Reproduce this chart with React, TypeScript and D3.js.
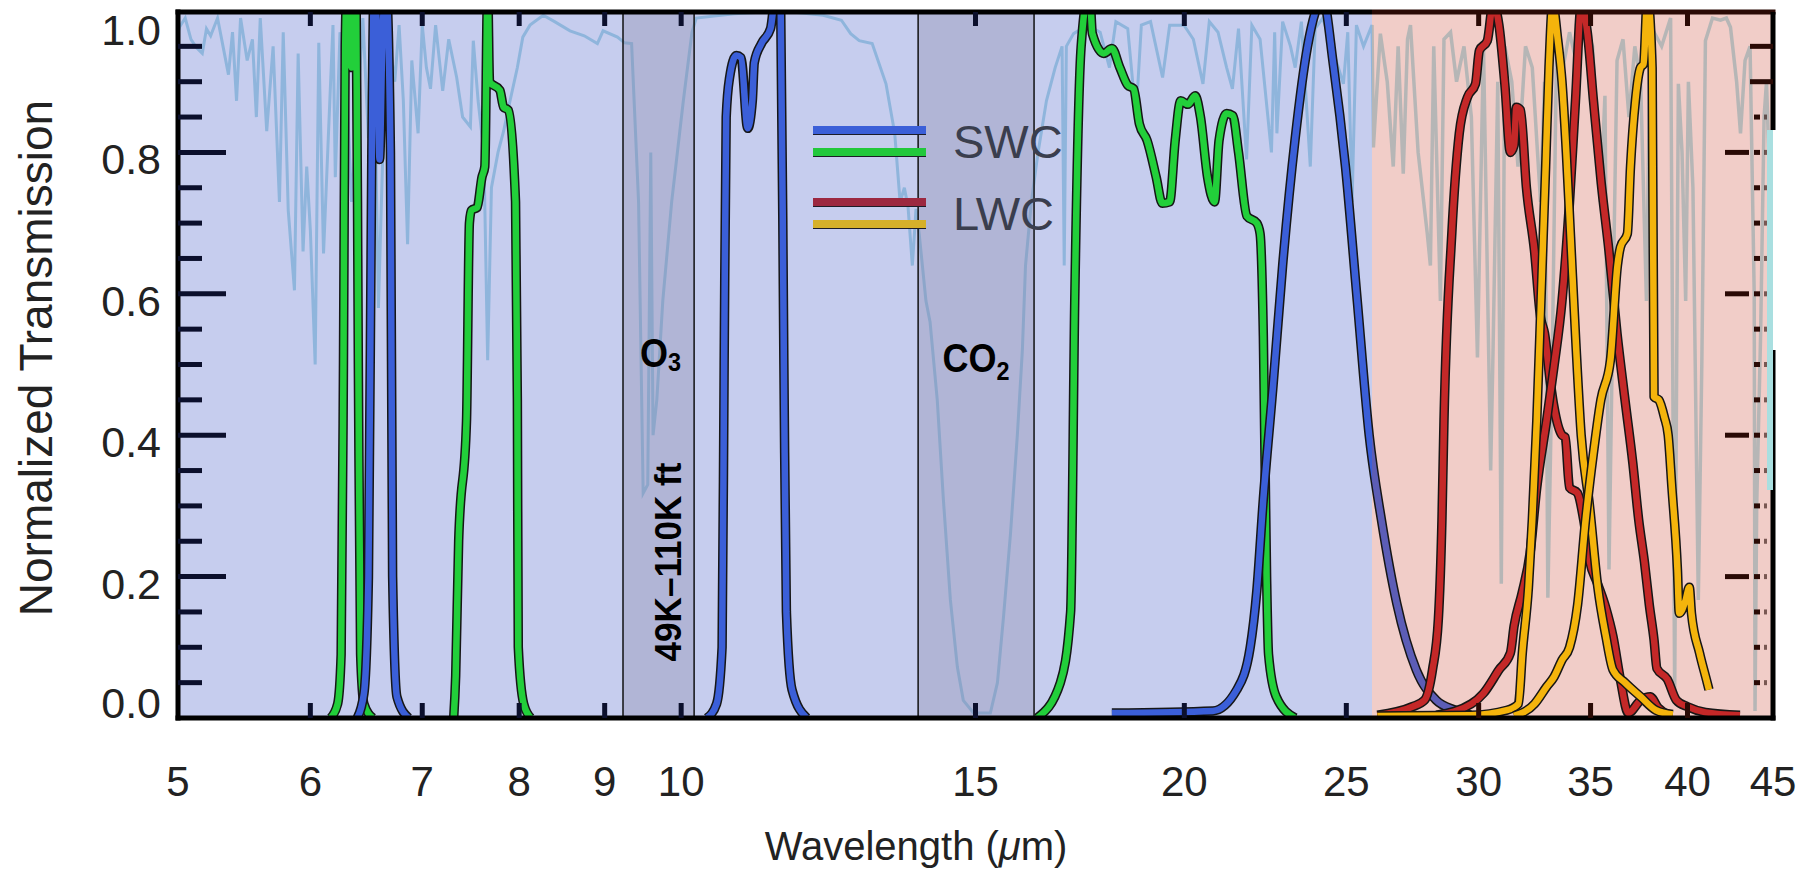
import { useRef, useEffect } from "react";
import * as d3 from "d3";

type Pt = [number, number];

// [wavelength µm, normalized transmission]
const atmosphere: Pt[] = [
  [5.0, 0.97], [5.01, 0.977], [5.05, 0.99], [5.09, 0.96], [5.13, 0.948], [5.17, 0.94], [5.2, 0.975],
  [5.23, 0.965], [5.28, 0.99], [5.32, 0.95], [5.36, 0.91], [5.39, 0.97], [5.42, 0.873], [5.45, 0.99],
  [5.5, 0.93], [5.54, 0.96], [5.57, 0.85], [5.6, 0.99], [5.65, 0.83], [5.7, 0.95], [5.75, 0.73],
  [5.78, 0.97], [5.82, 0.718], [5.87, 0.605], [5.9, 0.94], [5.94, 0.66], [5.97, 0.78], [6.0, 0.69],
  [6.04, 0.5], [6.07, 0.955], [6.11, 0.657], [6.15, 0.82], [6.19, 0.98], [6.21, 0.765], [6.25, 0.97],
  [6.3, 0.93], [6.35, 0.73], [6.4, 0.85], [6.45, 0.99], [6.5, 0.82], [6.55, 0.95], [6.59, 0.58],
  [6.63, 0.8], [6.68, 0.97], [6.74, 0.9], [6.78, 0.98], [6.82, 0.873], [6.86, 0.67], [6.9, 0.93],
  [6.96, 0.827], [7.0, 0.98], [7.04, 0.92], [7.08, 0.89], [7.13, 0.98], [7.2, 0.887], [7.26, 0.96],
  [7.34, 0.906], [7.4, 0.85], [7.48, 0.836], [7.51, 0.958], [7.56, 0.873], [7.62, 0.8], [7.66, 0.506],
  [7.7, 0.75], [7.77, 0.8], [7.83, 0.83], [7.9, 0.873], [7.98, 0.92], [8.04, 0.963], [8.12, 0.98],
  [8.27, 0.994], [8.4, 0.985], [8.58, 0.972], [8.75, 0.965], [8.91, 0.954], [8.98, 0.972], [9.16, 0.963],
  [9.25, 0.955], [9.34, 0.954], [9.43, 0.73], [9.49, 0.318], [9.55, 0.33], [9.59, 0.8], [9.62, 0.4],
  [9.67, 0.45], [9.75, 0.59], [9.87, 0.73], [10.03, 0.873], [10.15, 0.97], [10.21, 0.99], [10.76, 0.996],
  [11.5, 1.0], [12.16, 0.994], [12.47, 0.987], [12.63, 0.968], [12.78, 0.958], [13.01, 0.954],
  [13.26, 0.897], [13.42, 0.827], [13.52, 0.73], [13.6, 0.75], [13.67, 0.722], [13.75, 0.64],
  [13.82, 0.72], [13.88, 0.685], [14.01, 0.59], [14.09, 0.56], [14.23, 0.45], [14.35, 0.31],
  [14.49, 0.167], [14.63, 0.072], [14.75, 0.025], [14.96, 0.007], [15.31, 0.007], [15.46, 0.05],
  [15.59, 0.143], [15.74, 0.26], [15.89, 0.4], [16.0, 0.52], [16.07, 0.64], [16.2, 0.73], [16.35, 0.8],
  [16.54, 0.873], [16.74, 0.92], [16.9, 0.95], [16.95, 0.64], [17.0, 0.95], [17.17, 0.968], [17.5, 0.98],
  [17.81, 0.97], [18.04, 0.92], [18.2, 0.985], [18.5, 0.975], [18.71, 0.85], [18.85, 0.98], [19.09, 0.985],
  [19.41, 0.906], [19.6, 0.98], [19.99, 0.98], [20.25, 0.96], [20.52, 0.897], [20.7, 0.985], [20.95, 0.97],
  [21.2, 0.92], [21.37, 0.89], [21.55, 0.975], [21.79, 0.79], [21.95, 0.98], [22.2, 0.96], [22.55, 0.8],
  [22.65, 0.97], [22.72, 0.827], [22.9, 0.985], [23.15, 0.95], [23.3, 0.92], [23.5, 0.985], [23.79, 0.78],
  [23.95, 0.975], [24.2, 0.99], [24.5, 0.95], [24.9, 0.897], [25.05, 0.97], [25.2, 0.73], [25.35, 0.98],
  [25.6, 0.95], [25.9, 0.98], [25.95, 0.807], [26.2, 0.968], [26.45, 0.9], [26.67, 0.78], [26.85, 0.95],
  [27.04, 0.77], [27.2, 0.96], [27.31, 0.98], [27.6, 0.8], [27.95, 0.685], [28.07, 0.64], [28.2, 0.95],
  [28.46, 0.59], [28.6, 0.96], [28.86, 0.97], [29.1, 0.9], [29.4, 0.95], [29.7, 0.85], [29.95, 0.51],
  [30.2, 0.95], [30.5, 0.35], [30.6, 0.52], [30.8, 0.9], [30.95, 0.19], [31.1, 0.95], [31.4, 0.9],
  [31.67, 0.78], [32.0, 0.95], [32.3, 0.92], [32.67, 0.73], [32.85, 0.9], [33.0, 0.17], [33.2, 0.506],
  [33.4, 0.95], [33.58, 0.9], [34.0, 0.97], [34.3, 0.93], [34.75, 0.98], [35.1, 0.95], [35.48, 0.73],
  [35.7, 0.88], [35.9, 0.21], [36.1, 0.59], [36.3, 0.93], [36.6, 0.96], [36.9, 0.85], [37.2, 0.95],
  [37.5, 0.9], [37.8, 0.59], [38.0, 0.96], [38.2, 0.97], [38.6, 0.95], [39.08, 0.99], [39.3, 0.035],
  [39.5, 0.897], [39.7, 0.8], [39.9, 0.59], [40.05, 0.9], [40.3, 0.75], [40.6, 0.167], [40.8, 0.506],
  [41.0, 0.958], [41.4, 0.99], [41.86, 0.987], [42.2, 0.99], [42.44, 0.977], [42.8, 0.9], [43.03, 0.827],
  [43.3, 0.93], [43.6, 0.95], [43.85, 0.6], [43.9, 0.01], [44.0, 0.3], [44.24, 0.544], [44.45, 0.85],
  [44.6, 0.9], [44.8, 0.75], [45.0, 0.7],
];

// short-wave channel filters
const swcGreen1: Pt[] = [
  [6.17, 0], [6.23, 0.02], [6.26, 0.09], [6.28, 0.5], [6.295, 0.95], [6.31, 1.03], [6.35, 0.92],
  [6.39, 1.03], [6.41, 0.5], [6.43, 0.09], [6.46, 0.02], [6.54, 0],
];
const swcBlue1: Pt[] = [
  [6.4, 0], [6.46, 0.035], [6.5, 0.2], [6.53, 0.8], [6.55, 1.03], [6.575, 0.98], [6.6, 0.79],
  [6.63, 0.98], [6.66, 1.03], [6.7, 0.8], [6.72, 0.2], [6.76, 0.03], [6.87, 0],
];
const swcGreen2: Pt[] = [
  [7.31, 0], [7.33, 0.06], [7.36, 0.25], [7.44, 0.42], [7.47, 0.7], [7.49, 0.718], [7.55, 0.722],
  [7.6, 0.765], [7.63, 0.78], [7.66, 1.03], [7.68, 0.9], [7.79, 0.888], [7.83, 0.864], [7.88, 0.86],
  [7.96, 0.73], [7.98, 0.45], [7.99, 0.1], [8.05, 0.02], [8.13, 0],
];
const swcBlue2: Pt[] = [
  [10.36, 0], [10.5, 0.02], [10.58, 0.1], [10.61, 0.5], [10.64, 0.85], [10.69, 0.906], [10.79, 0.937],
  [10.86, 0.934], [10.96, 0.834], [11.03, 0.873], [11.06, 0.927], [11.17, 0.954], [11.31, 0.975],
  [11.4, 1.03], [11.47, 1.0], [11.52, 0.5], [11.56, 0.15], [11.65, 0.04], [11.89, 0],
];
const swcGreen3: Pt[] = [
  [16.33, 0], [16.86, 0.05], [17.1, 0.15], [17.2, 0.6], [17.35, 0.95], [17.55, 1.03], [17.62, 0.968],
  [17.9, 0.94], [18.1, 0.947], [18.3, 0.92], [18.5, 0.895], [18.65, 0.89], [18.8, 0.84], [19.0, 0.817],
  [19.24, 0.765], [19.4, 0.728], [19.6, 0.73], [19.75, 0.817], [19.9, 0.873], [20.1, 0.868], [20.3, 0.88],
  [20.45, 0.85], [20.65, 0.765], [20.85, 0.73], [20.98, 0.817], [21.2, 0.855], [21.38, 0.852],
  [21.55, 0.8], [21.8, 0.71], [22.1, 0.7], [22.2, 0.685], [22.3, 0.54], [22.4, 0.2], [22.46, 0.09],
  [22.7, 0.03], [23.3, 0],
];
const swcBlue3: Pt[] = [
  [18.1, 0.007], [20.8, 0.01], [21.5, 0.04], [21.9, 0.1], [22.1, 0.18], [22.3, 0.31], [22.6, 0.47],
  [22.9, 0.64], [23.3, 0.82], [23.7, 0.95], [24.05, 1.01], [24.19, 1.02], [24.57, 0.92], [24.97, 0.78],
  [25.38, 0.59], [25.8, 0.4], [26.24, 0.28], [26.8, 0.162], [27.53, 0.068], [28.3, 0.025], [29.05, 0.011],
  [29.67, 0.004],
];

// long-wave channel filters
const lwcRed1: Pt[] = [
  [26.09, 0.004], [27.38, 0.016], [27.84, 0.025], [28.15, 0.068], [28.38, 0.14], [28.52, 0.28],
  [28.6, 0.42], [28.91, 0.685], [29.21, 0.827], [29.54, 0.878], [29.87, 0.897], [30.03, 0.944],
  [30.36, 0.958], [30.6, 1.01], [30.85, 0.98], [31.1, 0.897], [31.34, 0.8], [31.5, 0.81], [31.6, 0.864],
  [31.78, 0.86], [32.04, 0.75], [32.4, 0.66], [32.67, 0.567], [32.85, 0.544], [33.12, 0.473],
  [33.28, 0.44], [33.65, 0.4], [33.8, 0.397], [34.0, 0.326], [34.38, 0.318], [34.67, 0.28], [34.95, 0.223],
  [35.34, 0.19], [35.73, 0.157], [36.1, 0.115], [36.47, 0.054], [36.87, 0.007], [37.5, 0.025],
  [38.0, 0.03], [38.4, 0.015], [39.0, 0.004],
];
const lwcRed2: Pt[] = [
  [28.3, 0.004], [29.7, 0.02], [30.2, 0.035], [30.85, 0.068], [31.34, 0.092], [31.5, 0.13], [31.85, 0.177],
  [32.2, 0.233], [32.5, 0.326], [32.94, 0.42], [33.28, 0.497], [33.65, 0.59], [34.0, 0.73], [34.28, 0.873],
  [34.56, 1.01], [34.85, 0.968], [35.14, 0.873], [35.52, 0.756], [35.9, 0.66], [36.3, 0.544], [36.7, 0.45],
  [37.1, 0.36], [37.4, 0.28], [37.7, 0.22], [37.95, 0.16], [38.2, 0.11], [38.35, 0.07], [38.9, 0.055],
  [39.4, 0.025], [40.0, 0.016], [41.0, 0.008], [43.0, 0.004],
];
const lwcYellow1: Pt[] = [
  [26.09, 0.003], [29.67, 0.004], [31.19, 0.011], [31.69, 0.02], [31.86, 0.092], [32.13, 0.185],
  [32.3, 0.28], [32.5, 0.42], [32.7, 0.6], [32.9, 0.78], [33.05, 0.92], [33.22, 1.01], [33.45, 0.96],
  [33.65, 0.9], [33.85, 0.8], [34.05, 0.68], [34.3, 0.53], [34.55, 0.4], [34.95, 0.3], [35.35, 0.185],
  [35.75, 0.115], [36.1, 0.068], [36.7, 0.05], [37.5, 0.03], [38.3, 0.011], [39.2, 0.005],
];
const lwcYellow2: Pt[] = [
  [31.5, 0.003], [32.4, 0.02], [32.94, 0.044], [33.28, 0.058], [33.65, 0.082], [34.0, 0.1], [34.38, 0.16],
  [34.76, 0.28], [35.14, 0.375], [35.5, 0.45], [35.97, 0.506], [36.32, 0.64], [36.47, 0.666],
  [36.82, 0.685], [36.98, 0.78], [37.23, 0.873], [37.49, 0.92], [37.65, 0.925], [37.85, 1.02],
  [38.1, 0.92], [38.2, 0.454], [38.45, 0.45], [38.75, 0.425], [38.95, 0.4], [39.15, 0.326], [39.45, 0.21],
  [39.55, 0.148], [39.9, 0.167], [40.1, 0.185], [40.22, 0.148], [40.67, 0.092], [41.1, 0.05], [41.2, 0.04],
];

const xTickLabels = [5, 6, 7, 8, 9, 10, 15, 20, 25, 30, 35, 40, 45];
const xInnerTicks = [6, 7, 8, 9, 10, 15, 20, 25, 30, 35, 40];
const yTickLabels = [0, 0.2, 0.4, 0.6, 0.8, 1.0];
const yMinorTicks = d3.range(0.05, 0.99, 0.05);

const bandO3: Pt = [9.23, 10.18];
const bandCO2: Pt = [13.86, 16.26];
const lwcStart = 25.9;

const legendItems = [
  { label: "SWC", colors: ["#3b5fd8", "#22c83c"] },
  { label: "LWC", colors: ["#9c2840", "#d6b02a"] },
];

const FONT = "'Liberation Sans', Arial, Helvetica, sans-serif";

export default function App() {
  const ref = useRef<SVGSVGElement>(null);

  useEffect(() => {
    const svg = d3.select(ref.current);
    svg.selectAll("*").remove();

    const left = 178, right = 1773, top = 12, bottom = 718;
    const x = d3.scaleLog().domain([5, 45]).range([left, right]);
    const y = d3.scaleLinear().domain([0, 1]).range([bottom, 11]);
    const split = x(lwcStart);

    const defs = svg.append("defs");
    const clip = (id: string, x0: number, x1: number) =>
      defs.append("clipPath").attr("id", id).append("rect")
        .attr("x", x0).attr("y", top).attr("width", x1 - x0).attr("height", bottom - top);
    clip("clip-all", left, right);
    clip("clip-swc", left, split);
    clip("clip-lwc", split, right);

    // backgrounds
    svg.append("rect").attr("x", left).attr("y", top).attr("width", split - left)
      .attr("height", bottom - top).attr("fill", "#c6cdee");
    svg.append("rect").attr("x", split).attr("y", top).attr("width", right - split)
      .attr("height", bottom - top).attr("fill", "#f1cdc8");

    const line = d3.line<Pt>().x((d) => x(d[0])).y((d) => y(d[1]));
    const smooth = d3.line<Pt>().x((d) => x(d[0])).y((d) => y(d[1])).curve(d3.curveMonotoneX);

    // atmospheric transmission
    svg.append("path").datum(atmosphere).attr("d", line).attr("fill", "none")
      .attr("stroke", "#8fb5dc").attr("stroke-width", 3).attr("clip-path", "url(#clip-swc)");
    svg.append("path").datum(atmosphere).attr("d", line).attr("fill", "none")
      .attr("stroke", "#b6b6b6").attr("stroke-width", 3.5).attr("clip-path", "url(#clip-lwc)");

    // absorption bands
    [bandO3, bandCO2].forEach(([a, b]) => {
      svg.append("rect").attr("x", x(a)).attr("y", top).attr("width", x(b) - x(a))
        .attr("height", bottom - top).attr("fill", "#8a8aa8").attr("opacity", 0.35);
      [a, b].forEach((v) => {
        svg.append("line").attr("x1", x(v)).attr("x2", x(v)).attr("y1", top).attr("y2", bottom)
          .attr("stroke", "#111").attr("stroke-width", 1.5);
      });
    });

    const drawFilter = (data: Pt[], color: string, clipId = "clip-all") => {
      const g = svg.append("g").attr("clip-path", `url(#${clipId})`);
      g.append("path").datum(data).attr("d", smooth).attr("fill", "none")
        .attr("stroke", "#161616").attr("stroke-width", 9.5).attr("stroke-linejoin", "round");
      g.append("path").datum(data).attr("d", smooth).attr("fill", "none")
        .attr("stroke", color).attr("stroke-width", 6.5).attr("stroke-linejoin", "round");
    };

    drawFilter(swcGreen1, "#22cf3a");
    drawFilter(swcBlue1, "#3b5fd8");
    drawFilter(swcGreen2, "#22cf3a");
    drawFilter(swcBlue2, "#3b5fd8");
    drawFilter(swcGreen3, "#22cf3a");
    drawFilter(swcBlue3, "#3b5fd8", "clip-swc");
    drawFilter(swcBlue3, "#5c5db6", "clip-lwc");
    drawFilter(lwcRed1, "#c42828");
    drawFilter(lwcRed2, "#c42828");
    drawFilter(lwcYellow1, "#f4b40c");
    drawFilter(lwcYellow2, "#f4b40c");

    // frame
    const navy = "#0b0f2c";
    const brown = "#2a0a05";
    svg.append("line").attr("x1", left).attr("x2", left).attr("y1", top - 2.5).attr("y2", bottom + 2.5)
      .attr("stroke", "#000").attr("stroke-width", 5);
    svg.append("line").attr("x1", left - 2.5).attr("x2", right + 2.5).attr("y1", bottom).attr("y2", bottom)
      .attr("stroke", "#000").attr("stroke-width", 5);
    svg.append("line").attr("x1", left - 2.5).attr("x2", split).attr("y1", top).attr("y2", top)
      .attr("stroke", "#000").attr("stroke-width", 5);
    svg.append("line").attr("x1", split).attr("x2", right + 2.5).attr("y1", top).attr("y2", top)
      .attr("stroke", brown).attr("stroke-width", 5);
    svg.append("line").attr("x1", right).attr("x2", right).attr("y1", top).attr("y2", 130)
      .attr("stroke", "#000").attr("stroke-width", 5);
    svg.append("line").attr("x1", right).attr("x2", right).attr("y1", 350).attr("y2", bottom + 2.5)
      .attr("stroke", "#000").attr("stroke-width", 5);
    svg.append("rect").attr("x", right - 6).attr("y", 130).attr("width", 6).attr("height", 360)
      .attr("fill", "#a9dfe0");

    // left ticks
    yMinorTicks.forEach((v) => {
      const major = Math.abs(v * 5 - Math.round(v * 5)) < 1e-6;
      svg.append("line").attr("x1", left).attr("x2", left + (major ? 48 : 24))
        .attr("y1", y(v)).attr("y2", y(v)).attr("stroke", navy).attr("stroke-width", 5);
    });
    // right ticks
    yMinorTicks.forEach((v) => {
      const major = Math.abs(v * 5 - Math.round(v * 5)) < 1e-6;
      const g = svg.append("g").attr("stroke", brown).attr("stroke-width", 5);
      if (v > 0.88) {
        g.append("line").attr("x1", right - 23).attr("x2", right).attr("y1", y(v)).attr("y2", y(v));
        return;
      }
      if (major) g.append("line").attr("x1", right - 48).attr("x2", right - 24).attr("y1", y(v)).attr("y2", y(v));
      g.append("line").attr("x1", right - 19).attr("x2", right - 13).attr("y1", y(v)).attr("y2", y(v));
      g.append("line").attr("x1", right - 9).attr("x2", right - 6).attr("y1", y(v)).attr("y2", y(v))
        .attr("stroke-opacity", 0.6);
    });
    // top & bottom ticks
    xInnerTicks.forEach((t) => {
      const c = x(t) > split ? brown : navy;
      svg.append("line").attr("x1", x(t)).attr("x2", x(t)).attr("y1", top).attr("y2", top + 14)
        .attr("stroke", c).attr("stroke-width", 5);
      svg.append("line").attr("x1", x(t)).attr("x2", x(t)).attr("y1", bottom).attr("y2", bottom - 15)
        .attr("stroke", c).attr("stroke-width", 5);
    });

    // tick labels
    svg.append("g").selectAll("text").data(yTickLabels).enter().append("text")
      .attr("x", 161)
      .attr("y", (v) => Math.min(Math.max(y(v) + 7, 30), 703) + 15)
      .attr("text-anchor", "end").attr("font-family", FONT).attr("font-size", 43).attr("fill", "#222")
      .text((v) => v.toFixed(1));
    svg.append("g").selectAll("text").data(xTickLabels).enter().append("text")
      .attr("x", (v) => x(v)).attr("y", 796)
      .attr("text-anchor", "middle").attr("font-family", FONT).attr("font-size", 42).attr("fill", "#222")
      .text((v) => String(v));

    // axis titles
    const xt = svg.append("text").attr("x", 916).attr("y", 860).attr("text-anchor", "middle")
      .attr("font-family", FONT).attr("font-size", 40).attr("fill", "#222");
    xt.append("tspan").text("Wavelength (");
    xt.append("tspan").attr("font-style", "italic").text("\u03bc");
    xt.append("tspan").text("m)");
    svg.append("text").attr("transform", "translate(52,358) rotate(-90)").attr("text-anchor", "middle")
      .attr("font-family", FONT).attr("font-size", 46).attr("fill", "#222")
      .text("Normalized Transmission");

    // band annotations
    const chem = (cx: number, base: number, main: string, sub: string, dy: number) => {
      const t = svg.append("text").attr("transform", `translate(${cx},${base}) scale(0.9,1)`)
        .attr("text-anchor", "middle").attr("font-family", FONT).attr("font-weight", "bold")
        .attr("font-size", 40).attr("fill", "#000");
      t.append("tspan").text(main);
      t.append("tspan").attr("font-size", 26).attr("dy", dy).text(sub);
    };
    const o3Mid = x(Math.sqrt(bandO3[0] * bandO3[1]));
    chem(o3Mid + 2, 367, "O", "3", 4);
    chem(x(Math.sqrt(bandCO2[0] * bandCO2[1])), 372, "CO", "2", 8);
    svg.append("text").attr("transform", `translate(${o3Mid + 22},562) rotate(-90)`)
      .attr("text-anchor", "middle").attr("font-family", FONT).attr("font-weight", "bold")
      .attr("font-size", 37).attr("fill", "#000")
      .attr("textLength", 199).attr("lengthAdjust", "spacingAndGlyphs")
      .text("49K\u2013110K ft");

    // legend
    const lg = svg.append("g");
    legendItems.forEach((item, i) => {
      const y0 = 130 + i * 72;
      item.colors.forEach((c, j) => {
        const yy = y0 + j * 22;
        lg.append("line").attr("x1", 813).attr("x2", 926).attr("y1", yy + 4).attr("y2", yy + 4)
          .attr("stroke", "#1c1c28").attr("stroke-width", 2);
        lg.append("line").attr("x1", 813).attr("x2", 926).attr("y1", yy).attr("y2", yy)
          .attr("stroke", c).attr("stroke-width", 8);
      });
      lg.append("text").attr("x", 953).attr("y", y0 + 28).attr("font-family", FONT).attr("font-size", 47)
        .attr("fill", "#3a3e4e").text(item.label);
    });
  }, []);

  return (
    <svg
      ref={ref}
      width={1816}
      height={874}
      style={{ position: "absolute", left: 0, top: 0, background: "#fff", display: "block" }}
    />
  );
}
